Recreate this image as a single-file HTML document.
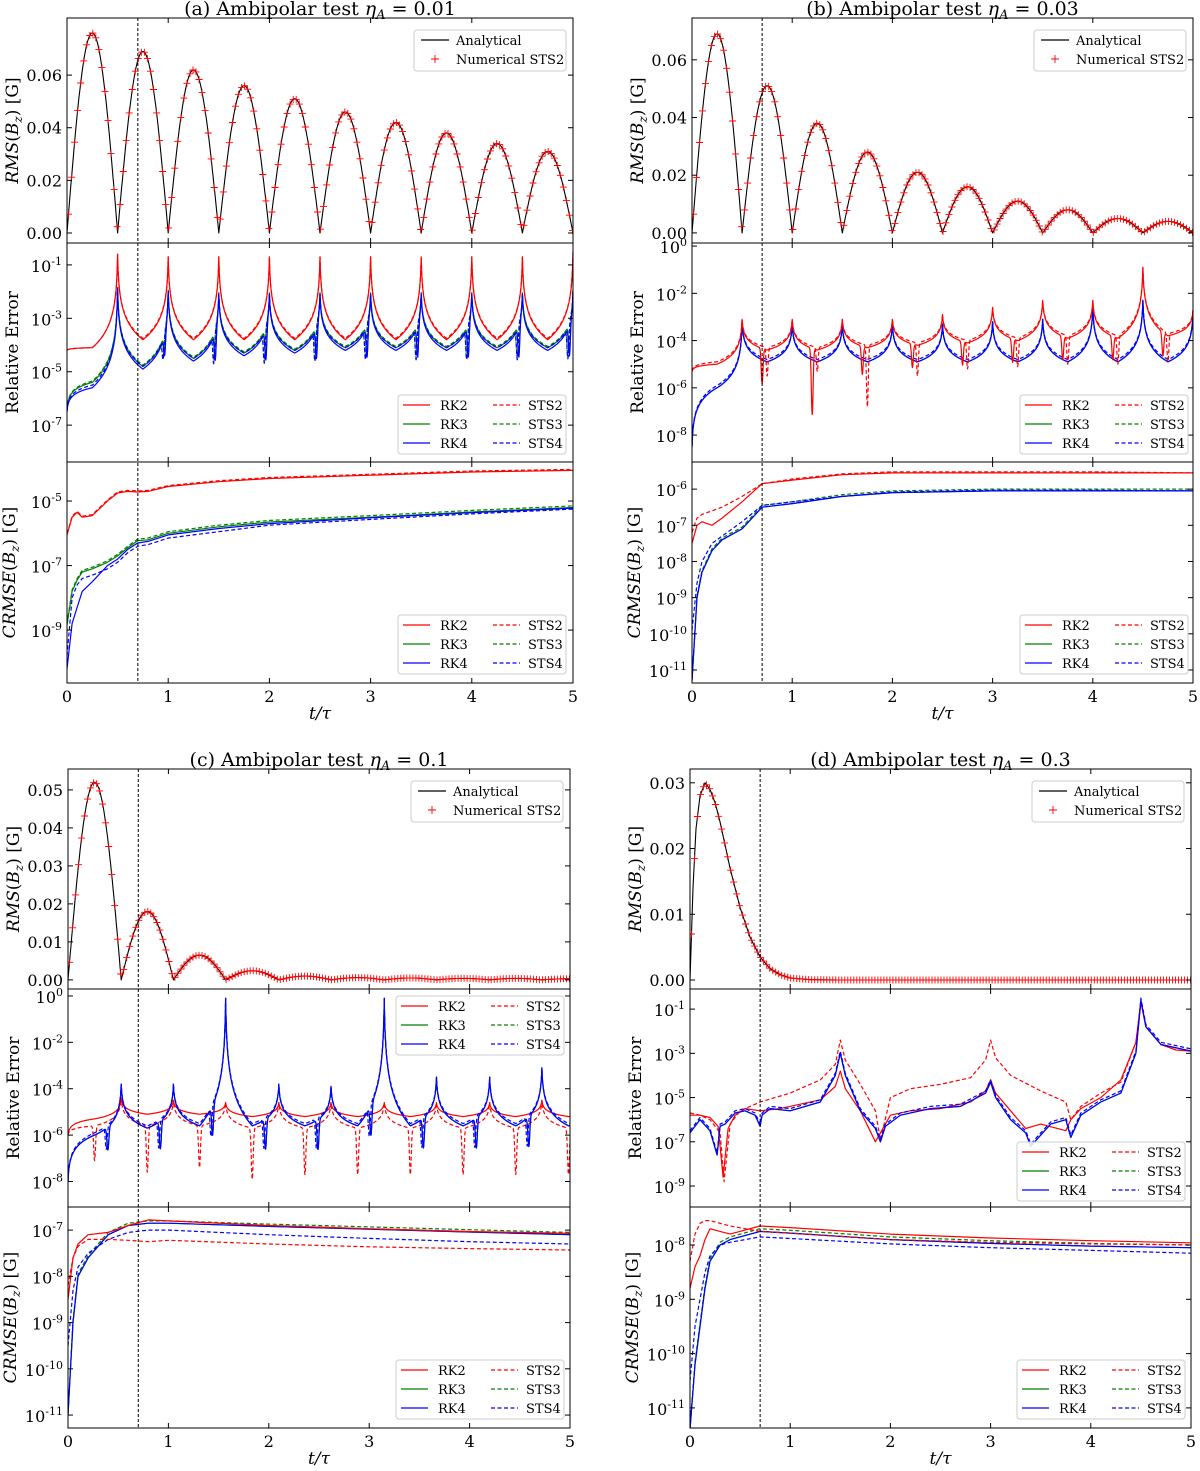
<!DOCTYPE html>
<html><head><meta charset="utf-8"><style>
html,body{margin:0;padding:0;background:#fff}
svg{display:block}
text{font-family:"DejaVu Serif","Liberation Serif",serif;fill:#000}
</style></head><body>
<svg id="fig" width="1200" height="1471" viewBox="0 0 1200 1471"></svg>
<script>
// ---------- DATA ----------
const xTicks=[0,1,2,3,4,5];
const aZeros=[0,0.5,1,1.5,2,2.5,3,3.5,4,4.5,5];
const bZeros=[0,0.5,1,1.5,2,2.5,3,3.5,4,4.5,5];
const cZeros=[0,0.53,1.05,1.57,2.1,2.62,3.15,3.67,4.2,4.72,5.25];
const aRmsPeaks=[0.076,0.069,0.062,0.056,0.051,0.046,0.042,0.038,0.034,0.031];
const bRmsPeaks=[0.069,0.051,0.038,0.028,0.021,0.016,0.011,0.008,0.005,0.004];
const cRmsPeaks=[0.052,0.018,0.0065,0.0024,0.0010,0.0006,0.0005,0.0004,0.0004,0.0003];
const dRmsT=[0,0.03,0.06,0.1,0.15,0.2,0.25,0.3,0.4,0.5,0.6,0.7,0.8,0.9,1.0,1.2,1.5,5];
const dRmsV=[0,0.014,0.023,0.028,0.030,0.029,0.027,0.024,0.017,0.011,0.0065,0.0035,0.0017,0.0008,0.0003,0.00005,0,0];
// relative error (log10) per hump
const aRK2Base=[-4.1,-3.8,-3.8,-3.8,-3.8,-3.8,-3.8,-3.8,-3.8,-3.8];
const aRK2Peak=[-4.2,-0.6,-0.7,-0.7,-0.7,-0.7,-0.7,-0.7,-0.7,-0.7,-0.5];
const aSTS2Base=[-4.1,-3.75,-3.75,-3.75,-3.75,-3.75,-3.75,-3.75,-3.75,-3.75];
const aRK3Base=[-5.4,-4.8,-4.5,-4.3,-4.2,-4.1,-4.1,-4.1,-4.1,-4.1];
const aRK4Base=[-5.6,-4.9,-4.6,-4.4,-4.3,-4.2,-4.2,-4.2,-4.2,-4.2];
const aRK4Peak=[-6.5,-1.9,-2.0,-2.1,-2.1,-2.1,-2.1,-2.1,-2.1,-2.1,-2.0];
const aRK4Dip=[0,0.8,1.1,1.2,1.2,1.2,1.2,1.2,1.2,1.2];
const bRK2Base=[-5.0,-4.4,-4.4,-4.3,-4.2,-4.1,-4.0,-3.9,-3.9,-3.8];
const bRK2Peak=[-5.3,-3.1,-3.1,-3.1,-3.1,-2.9,-2.6,-2.3,-2.3,-0.9,-2.7];
const bRK2Dip=[0,1.5,2.8,1.2,1.0,1.0,1.0,1.0,1.0,1.0];
const bSTS2Dip=[0,1.2,1.0,2.6,1.4,1.2,1.2,1.2,1.2,1.2];
const bRK4Base=[-6.0,-4.9,-4.9,-4.9,-4.9,-4.9,-4.9,-4.9,-4.9,-4.9];
const bRK4Peak=[-8.5,-3.2,-3.3,-3.3,-3.3,-3.3,-3.2,-3.1,-2.6,-2.3,-2.8];
const cRK2Base=[-5.3,-5.1,-5.1,-5.2,-5.2,-5.2,-5.2,-5.2,-5.2,-5.2];
const cRK2Peak=[-6.0,-4.4,-4.5,-4.6,-4.6,-4.6,-4.6,-4.6,-4.6,-4.5,-4.8];
const cSTS2Base=[-5.6,-5.6,-5.6,-5.7,-5.7,-5.7,-5.7,-5.7,-5.7,-5.7];
const cSTS2Dip=[1.5,2.0,1.8,2.2,2.0,2.0,2.0,2.0,2.0,2.0];
const cRK4Base=[-6.0,-5.7,-5.6,-5.6,-5.6,-5.6,-5.6,-5.6,-5.6,-5.6];
const cRK4Peak=[-8.0,-3.8,-3.8,-0.1,-3.8,-3.9,-0.1,-3.5,-3.5,-3.1,-4.5];
const cRK4Dip=[1.0,1.2,1.3,1.3,1.3,1.3,1.3,1.3,1.3,1.3];
const dRK2T=[0,0.1,0.2,0.28,0.33,0.38,0.45,0.55,0.7,0.9,1.1,1.3,1.45,1.5,1.55,1.7,1.85,1.9,2.0,2.2,2.5,2.8,2.95,3.0,3.05,3.2,3.35,3.5,3.75,3.8,3.9,4.1,4.3,4.45,4.5,4.55,4.7,4.85,5.0];
const dRK2V=[-5.8,-5.8,-5.9,-6.3,-8.6,-6.4,-5.8,-5.5,-5.6,-5.5,-5.3,-5.1,-4.5,-3.8,-4.6,-5.6,-7.0,-6.6,-5.8,-5.6,-5.5,-5.2,-4.7,-4.2,-4.8,-5.6,-6.4,-6.2,-6.5,-6.0,-5.5,-5.0,-4.2,-2.5,-0.7,-1.8,-2.6,-2.85,-2.9];
const dSTS2T=[0,0.1,0.2,0.3,0.34,0.4,0.5,0.7,1.0,1.3,1.45,1.5,1.55,1.7,1.85,1.9,2.0,2.2,2.5,2.8,2.95,3.0,3.05,3.2,3.5,3.75,3.8,3.9,4.1,4.3,4.45,4.5,4.55,4.7,5.0];
const dSTS2V=[-5.7,-5.8,-6.0,-6.6,-8.8,-6.2,-5.6,-5.2,-4.8,-4.2,-3.5,-2.4,-3.3,-4.4,-5.6,-6.9,-5.0,-4.6,-4.4,-4.1,-3.3,-2.4,-3.2,-4.0,-4.7,-5.2,-6.0,-5.4,-4.8,-4.3,-2.5,-0.6,-1.8,-2.6,-2.9];
const dRK4T=[0,0.1,0.2,0.27,0.3,0.35,0.45,0.55,0.65,0.7,0.72,0.8,1.0,1.3,1.45,1.5,1.55,1.7,1.85,1.9,1.95,2.1,2.4,2.7,2.95,3.0,3.05,3.2,3.35,3.4,3.6,3.75,3.8,3.9,4.1,4.3,4.45,4.5,4.55,4.7,5.0];
const dRK4V=[-6.6,-6.0,-6.5,-7.6,-6.3,-6.2,-5.7,-5.6,-5.8,-6.3,-5.8,-5.5,-5.6,-5.2,-4.0,-3.0,-4.0,-5.6,-6.4,-7.0,-6.3,-5.8,-5.5,-5.4,-4.8,-4.3,-5.0,-6.0,-6.6,-7.2,-6.2,-6.0,-6.8,-5.8,-5.2,-4.8,-3.0,-0.6,-1.8,-2.6,-2.9];
// CRMSE (log10)
const aCT=[0,0.05,0.1,0.15,0.25,0.4,0.5,0.6,0.7,0.8,1,1.5,2,3,4,5];
const aC_RK2=[-6.05,-5.5,-5.35,-5.5,-5.45,-5.0,-4.75,-4.7,-4.72,-4.7,-4.55,-4.4,-4.3,-4.2,-4.1,-4.05];
const aC_RK3=[-8.85,-7.8,-7.45,-7.2,-7.1,-6.9,-6.7,-6.45,-6.23,-6.2,-6.0,-5.8,-5.65,-5.5,-5.34,-5.2];
const aC_RK4=[-10.2,-8.8,-8.3,-7.8,-7.5,-7.0,-6.8,-6.5,-6.3,-6.25,-6.05,-5.85,-5.7,-5.52,-5.36,-5.22];
const aC_STS4=[-9.8,-8.0,-7.6,-7.4,-7.3,-7.1,-6.9,-6.6,-6.4,-6.35,-6.15,-5.95,-5.75,-5.57,-5.4,-5.25];
const bCT=[0,0.05,0.1,0.2,0.3,0.5,0.7,1,1.5,2,3,4,5];
const bC_RK2=[-7.5,-7.0,-6.9,-7.0,-6.8,-6.35,-5.85,-5.75,-5.6,-5.55,-5.55,-5.55,-5.55];
const bC_STS2=[-7.2,-6.8,-6.7,-6.6,-6.5,-6.2,-5.85,-5.72,-5.58,-5.52,-5.52,-5.52,-5.55];
const bC_RK4=[-11.3,-9.0,-8.3,-7.7,-7.4,-7.1,-6.5,-6.4,-6.2,-6.1,-6.05,-6.05,-6.05];
const bC_STS4=[-9.9,-8.6,-8.0,-7.5,-7.3,-6.9,-6.45,-6.35,-6.2,-6.08,-6.03,-6.03,-6.05];
const cCT=[0,0.05,0.1,0.2,0.4,0.6,0.8,1,2,3,4,5];
const cC_RK2=[-8.5,-7.6,-7.3,-7.1,-7.05,-6.9,-6.78,-6.8,-6.9,-6.97,-7.03,-7.07];
const cC_STS2=[-8.2,-7.6,-7.35,-7.2,-7.2,-7.22,-7.25,-7.22,-7.3,-7.36,-7.4,-7.43];
const cC_RK4=[-11.0,-9.0,-8.0,-7.6,-7.1,-6.9,-6.85,-6.85,-6.92,-6.98,-7.04,-7.1];
const cC_STS4=[-9.5,-8.3,-7.8,-7.5,-7.2,-7.05,-7.0,-7.0,-7.1,-7.18,-7.25,-7.3];
const dCT=[0,0.05,0.1,0.15,0.2,0.3,0.4,0.7,1,2,3,4,5];
const dC_RK2=[-8.8,-8.4,-8.2,-7.9,-7.7,-7.75,-7.8,-7.65,-7.68,-7.8,-7.87,-7.92,-7.96];
const dC_STS2=[-8.3,-7.8,-7.6,-7.55,-7.55,-7.6,-7.65,-7.75,-7.78,-7.9,-7.95,-7.98,-8.0];
const dC_RK4=[-11.4,-10.2,-9.5,-8.8,-8.3,-8.0,-7.9,-7.75,-7.78,-7.9,-7.97,-8.02,-8.05];
const dC_STS4=[-10.5,-9.5,-9.0,-8.5,-8.2,-8.0,-7.95,-7.85,-7.88,-7.98,-8.05,-8.1,-8.15];

// ---------- LAYOUT ----------
const NS='http://www.w3.org/2000/svg';
const svg=document.getElementById('fig');
const RED='#ff0000',GREEN='#008000',BLUE='#0000ff',DASH='4,2.5';
const panels=[
 {id:'a',x0:67,x1:573,ys:[18,243,462,683],eta:'0.01',topR:[-0.0038,0.0817],midR:[-8.38,-0.18],botR:[-10.64,-3.79],topT:[0,0.02,0.04,0.06],midT:[-1,-3,-5,-7],botT:[-5,-7,-9],midLeg:[398,395],botLeg:[398,615]},
 {id:'b',x0:692,x1:1193,ys:[18,243,462,683],eta:'0.03',topR:[-0.0035,0.0745],midR:[-9.14,0.13],botR:[-11.36,-5.25],topT:[0,0.02,0.04,0.06],midT:[0,-2,-4,-6,-8],botT:[-6,-7,-8,-9,-10,-11],midLeg:[1020,395],botLeg:[1020,615]},
 {id:'c',x0:68,x1:570,ys:[769,989,1207,1428],eta:'0.1',topR:[-0.0024,0.0555],midR:[-9.1,0.3],botR:[-11.28,-6.5],topT:[0,0.01,0.02,0.03,0.04,0.05],midT:[0,-2,-4,-6,-8],botT:[-7,-8,-9,-10,-11],midLeg:[396,996],botLeg:[396,1360]},
 {id:'d',x0:690,x1:1191,ys:[769,989,1207,1428],eta:'0.3',topR:[-0.00137,0.0321],midR:[-9.95,-0.09],botR:[-11.37,-7.3],topT:[0,0.01,0.02,0.03],midT:[-1,-3,-5,-7,-9],botT:[-8,-9,-10,-11],midLeg:[1017,1142],botLeg:[1017,1360]}
];
function mk(tag,attrs,parent){const e=document.createElementNS(NS,tag);for(const k in attrs)e.setAttribute(k,attrs[k]);(parent||svg).appendChild(e);return e;}
function spikeW(u){return Math.max(0,1-Math.log(1+u/0.008)/Math.log(1+0.5/0.008));}
function humpSeries(zeros,base,peak,dip,dipU){
 const T=[],V=[];
 for(let i=0;i<base.length;i++){
  const z0=zeros[i],z1=zeros[i+1];
  for(let k=0;k<=200;k++){
   if(k===200&&i<base.length-1)continue;
   const u=k/200;
   let v=base[i]+(peak[i]-base[i])*spikeW(u)+(peak[i+1]-base[i])*spikeW(1-u);
   if(dip)v-=dip[i]*Math.exp(-Math.pow((u-dipU)/0.025,2));
   T.push(z0+(z1-z0)*u);V.push(v);
  }
 }
 return [T,V];
}
function rmsHumps(zeros,peaks){
 const T=[],V=[];
 for(let i=0;i<peaks.length;i++){
  for(let k=0;k<100;k++){const u=k/100;T.push(zeros[i]+(zeros[i+1]-zeros[i])*u);V.push(peaks[i]*Math.sin(Math.PI*u));}
 }
 T.push(zeros[peaks.length]);V.push(0);return [T,V];
}
function interp(T,V,t){for(let i=1;i<T.length;i++){if(t<=T[i]){const f=(t-T[i-1])/(T[i]-T[i-1]);return V[i-1]+f*(V[i]-V[i-1]);}}return V[V.length-1];}
function shift(V,d){return V.map(v=>v+d);}

function makeAxes(p,idx,range,name){
 const y0=p.ys[idx],y1=p.ys[idx+1];
 const ax={x0:p.x0,x1:p.x1,y0,y1,
  sx:t=>p.x0+t/5*(p.x1-p.x0),
  sy:v=>y0+(range[1]-v)/(range[1]-range[0])*(y1-y0)};
 const cid='clip-'+p.id+'-'+idx;
 const cp=mk('clipPath',{id:cid});
 mk('rect',{x:p.x0,y:y0,width:p.x1-p.x0,height:y1-y0},cp);
 ax.g=mk('g',{'clip-path':'url(#'+cid+')'});
 
 
 return ax;
}
function line(ax,T,V,color,dash,name,w){
 let d='';for(let i=0;i<T.length;i++){d+=(i?'L':'M')+ax.sx(T[i]).toFixed(1)+','+ax.sy(V[i]).toFixed(1);}
 const e=mk('path',{d,fill:'none',stroke:color,'stroke-width':w||1.2,'stroke-dasharray':dash||'none','stroke-linejoin':'round'},ax.g);
 
 
}
function frame(ax,name){
 const r=mk('rect',{x:ax.x0,y:ax.y0,width:ax.x1-ax.x0,height:ax.y1-ax.y0,fill:'none',stroke:'#000','stroke-width':1});
 
 
}
function yTickLin(ax,ticks){
 ticks.forEach(v=>{
  const y=ax.sy(v);
  mk('line',{x1:ax.x0,x2:ax.x0+5,y1:y,y2:y,stroke:'#000'});
  mk('line',{x1:ax.x1,x2:ax.x1-5,y1:y,y2:y,stroke:'#000'});
  const t=mk('text',{x:ax.x0-5,y:y+6,'text-anchor':'end','font-size':16});
  t.textContent=v.toFixed(2);
  
  
 });
}
function yTickLog(ax,ticks){
 ticks.forEach(v=>{
  const y=ax.sy(v);
  mk('line',{x1:ax.x0,x2:ax.x0+5,y1:y,y2:y,stroke:'#000'});
  mk('line',{x1:ax.x1,x2:ax.x1-5,y1:y,y2:y,stroke:'#000'});
  const t=mk('text',{x:ax.x0-5,y:y+7,'text-anchor':'end','font-size':16});
  
  
  const a=mk('tspan',{},t);a.textContent='10';
  const b=mk('tspan',{dy:-7,'font-size':11},t);b.textContent=String(v);
 });
}
function xTicks_(ax,labels){
 xTicks.forEach(v=>{
  const x=ax.sx(v);
  mk('line',{x1:x,x2:x,y1:ax.y1,y2:ax.y1-5,stroke:'#000'});
  mk('line',{x1:x,x2:x,y1:ax.y0,y2:ax.y0+5,stroke:'#000'});
  if(labels){const t=mk('text',{x:x,y:ax.y1+19,'text-anchor':'middle','font-size':16});t.textContent=String(v);
   
   }
 });
}
function ylabel(x,yc,parts,name){
 const t=mk('text',{x:0,y:0,transform:'translate('+x+','+yc+') rotate(-90)','text-anchor':'middle','font-size':17});
 
 
 parts.forEach(pp=>{const s=mk('tspan',pp[1]||{},t);s.textContent=pp[0];});
}
function legend6(x,y,name){
 const g=mk('g',{});
 
 
 mk('rect',{x:x,y:y,width:168,height:59,rx:3,fill:'#fff','fill-opacity':0.85,stroke:'#ccc'},g);
 const ents=[['RK2',RED,0],['RK3',GREEN,0],['RK4',BLUE,0],['STS2',RED,1],['STS3',GREEN,1],['STS4',BLUE,1]];
 ents.forEach((e,i)=>{
  const col=i>=3?1:0,row=i%3;
  const lx=x+(col?95:5),ly=y+10+row*19;
  const l=mk('line',{x1:lx,x2:lx+27,y1:ly,y2:ly,stroke:e[1],'stroke-width':1.2,'stroke-dasharray':e[2]?DASH:'none'},g);
  
  const t=mk('text',{x:lx+(col?35:37),y:ly+5,'font-size':13},g);t.textContent=e[0];
  
  
 });
}
function legendTop(x,y){
 const g=mk('g',{});
 
 
 mk('rect',{x:x,y:y,width:152,height:41,rx:3,fill:'#fff','fill-opacity':0.85,stroke:'#ccc'},g);
 mk('line',{x1:x+7,x2:x+35,y1:y+10,y2:y+10,stroke:'#000','stroke-width':1.2},g);
 const t1=mk('text',{x:x+42,y:y+15,'font-size':13},g);t1.textContent='Analytical';
 
 
 mk('path',{d:`M${x+21-4},${y+29}h8M${x+21},${y+25}v8`,stroke:RED,'stroke-width':0.9},g);
 const t2=mk('text',{x:x+42,y:y+34,'font-size':13},g);t2.textContent='Numerical STS2';
 
 
}

function midSeries(id){
 if(id==='a'){return [
  [humpSeries(aZeros,aRK3Base,shift(aRK4Peak,0.05),aRK4Dip,0.93),GREEN,null,'rk3'],
  [humpSeries(aZeros,shift(aRK3Base,0.05),shift(aRK4Peak,0.05),aRK4Dip,0.9),GREEN,DASH,'sts3'],
  [humpSeries(aZeros,aRK4Base,aRK4Peak,aRK4Dip,0.93),BLUE,null,'rk4'],
  [humpSeries(aZeros,shift(aRK4Base,0.1),aRK4Peak,aRK4Dip,0.9),BLUE,DASH,'sts4'],
  [humpSeries(aZeros,aRK2Base,aRK2Peak),RED,null,'rk2'],
  [humpSeries(aZeros,aSTS2Base,aRK2Peak),RED,DASH,'sts2']];}
 if(id==='b'){return [
  [humpSeries(bZeros,bRK4Base,bRK4Peak),GREEN,null,'rk3'],
  [humpSeries(bZeros,bRK4Base,bRK4Peak),BLUE,null,'rk4'],
  [humpSeries(bZeros,shift(bRK4Base,0.1),bRK4Peak),BLUE,DASH,'sts4'],
  [humpSeries(bZeros,bRK2Base,bRK2Peak,bRK2Dip,0.4),RED,null,'rk2'],
  [humpSeries(bZeros,shift(bRK2Base,0.1),bRK2Peak,bSTS2Dip,0.5),RED,DASH,'sts2']];}
 if(id==='c'){return [
  [humpSeries(cZeros,cRK4Base,cRK4Peak,cRK4Dip,0.75),GREEN,null,'rk3'],
  [humpSeries(cZeros,cRK2Base,cRK2Peak),RED,null,'rk2'],
  [humpSeries(cZeros,cSTS2Base,cRK2Peak,cSTS2Dip,0.5),RED,DASH,'sts2'],
  [humpSeries(cZeros,cRK4Base,cRK4Peak,cRK4Dip,0.75),BLUE,null,'rk4'],
  [humpSeries(cZeros,shift(cRK4Base,0.1),cRK4Peak,cRK4Dip,0.72),BLUE,DASH,'sts4']];}
 return [
  [[dRK4T,dRK4V],GREEN,null,'rk3'],
  [[dRK2T,dRK2V],RED,null,'rk2'],
  [[dSTS2T,dSTS2V],RED,DASH,'sts2'],
  [[dRK4T,dRK4V],BLUE,null,'rk4'],
  [[dRK4T,shift(dRK4V,0.1)],BLUE,DASH,'sts4']];
}
function botSeries(id){
 const m={a:[aCT,aC_RK2,aC_RK2.map(v=>v+0.03),aC_RK3,aC_RK4,aC_STS4],
          b:[bCT,bC_RK2,bC_STS2,bC_RK4,bC_RK4,bC_STS4],
          c:[cCT,cC_RK2,cC_STS2,cC_RK4,cC_RK4,cC_STS4],
          d:[dCT,dC_RK2,dC_STS2,dC_RK4,dC_RK4,dC_STS4]}[id];
 return [[m[0],m[3],GREEN,null,'rk3'],[m[0],m[3].map(v=>v+0.05),GREEN,DASH,'sts3'],[m[0],m[4],BLUE,null,'rk4'],[m[0],m[5],BLUE,DASH,'sts4'],[m[0],m[1],RED,null,'rk2'],[m[0],m[2],RED,DASH,'sts2']];
}

panels.forEach(p=>{
 const tt=mk('text',{x:(p.x0+p.x1)/2,y:p.ys[0]-3,'text-anchor':'middle','font-size':19});
 
 
 const s1=mk('tspan',{},tt);s1.textContent='('+p.id+') Ambipolar test ';
 const s2=mk('tspan',{'font-style':'italic'},tt);s2.textContent='η';
 const s3=mk('tspan',{'font-style':'italic','font-size':13,dy:4},tt);s3.textContent='A';
 const s4=mk('tspan',{dy:-4},tt);s4.textContent=' = '+p.eta;

 const at=makeAxes(p,0,p.topR,'rms-plot-'+p.id);
 let TV;
 if(p.id==='a')TV=rmsHumps(aZeros,aRmsPeaks);
 else if(p.id==='b')TV=rmsHumps(bZeros,bRmsPeaks);
 else if(p.id==='c')TV=rmsHumps(cZeros,cRmsPeaks);
 else {const T=[],V=[];for(let t=0;t<=5;t+=0.01){T.push(t);V.push(interp(dRmsT,dRmsV,t));}TV=[T,V];}
 line(at,TV[0],TV[1],'#000',null,'analytical-line',1.1);
 let md='';
 for(let t=0.015;t<5;t+=0.03){const x=at.sx(t),y=at.sy(interp(TV[0],TV[1],t));md+=`M${(x-3.5).toFixed(1)},${y.toFixed(1)}h7M${x.toFixed(1)},${(y-3.5).toFixed(1)}v7`;}
 const mkp=mk('path',{d:md,stroke:RED,'stroke-width':0.9,fill:'none'},at.g);
 
 
 frame(at,'rms-axes-frame');
 yTickLin(at,p.topT);
 xTicks_(at,false);
 legendTop(p.x1-159,p.ys[0]+12);
 ylabel(p.x0-49,(p.ys[0]+p.ys[1])/2,[['RMS',{'font-style':'italic'}],['(',{}],['B',{'font-style':'italic'}],['z',{'font-style':'italic','font-size':12,dy:4}],[') [G]',{dy:-4}]],'rms-y-axis-title');

 const am=makeAxes(p,1,p.midR,'relative-error-plot-'+p.id);
 midSeries(p.id).forEach(s=>line(am,s[0][0],s[0][1],s[1],s[2],'rel-error-'+s[3]));
 frame(am,'relative-error-axes-frame');
 yTickLog(am,p.midT);
 xTicks_(am,false);
 legend6(p.midLeg[0],p.midLeg[1],'relative-error-legend');
 ylabel(p.x0-49,(p.ys[1]+p.ys[2])/2,[['Relative Error',{}]],'relative-error-y-axis-title');

 const ab=makeAxes(p,2,p.botR,'crmse-plot-'+p.id);
 botSeries(p.id).forEach(s=>line(ab,s[0],s[1],s[2],s[3],'crmse-'+s[4]));
 frame(ab,'crmse-axes-frame');
 yTickLog(ab,p.botT);
 xTicks_(ab,true);
 legend6(p.botLeg[0],p.botLeg[1],'crmse-legend');
 ylabel(p.x0-52,(p.ys[2]+p.ys[3])/2,[['CRMSE',{'font-style':'italic'}],['(',{}],['B',{'font-style':'italic'}],['z',{'font-style':'italic','font-size':12,dy:4}],[') [G]',{dy:-4}]],'crmse-y-axis-title');

 const vx=at.sx(0.7);
 const vl=mk('line',{x1:vx,x2:vx,y1:p.ys[0],y2:p.ys[3],stroke:'#000','stroke-width':1,'stroke-dasharray':'3,2'});
 
 

 const xl=mk('text',{x:(p.x0+p.x1)/2,y:p.ys[3]+36,'text-anchor':'middle','font-size':17,'font-style':'italic'});
 xl.textContent='t/τ';
 
 
});
</script>
</body></html>
